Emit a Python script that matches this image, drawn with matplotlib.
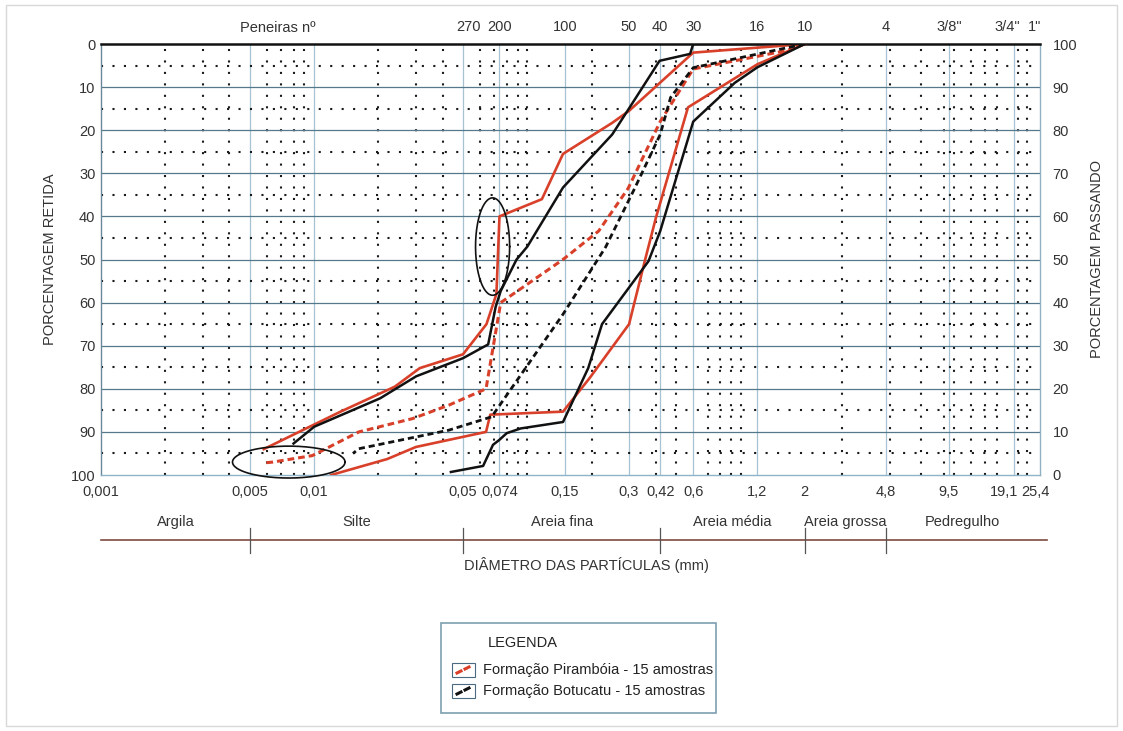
import numpy as np
import matplotlib
matplotlib.use("Agg")
import matplotlib.pyplot as plt
import matplotlib.transforms as mtransforms
from matplotlib.patches import Rectangle
from matplotlib.lines import Line2D
from matplotlib.ticker import NullLocator

plt.rcParams['font.family'] = ['Liberation Sans', 'DejaVu Sans']

# x axis (particle diameter, mm)
diam_ticks = [0.001, 0.005, 0.01, 0.05, 0.074, 0.15, 0.3, 0.42, 0.6, 1.2, 2, 4.8, 9.5, 19.1, 25.4]
diam_labels = ['0,001', '0,005', '0,01', '0,05', '0,074', '0,15', '0,3', '0,42', '0,6',
               '1,2', '2', '4,8', '9,5', '19,1', '25,4']
sieve_diam = [0.053, 0.074, 0.15, 0.3, 0.42, 0.6, 1.2, 2, 4.8, 9.5, 19.1, 25.4]
sieve_labels = ['270', '200', '100', '50', '40', '30', '16', '10', '4', '3/8"', '3/4"', '1"']
solid_vlines = [0.005, 0.01, 0.05, 0.074, 0.15, 0.3, 0.42, 0.6, 1.2, 4.8, 9.5, 19.1]
dotted_vlines = [0.002, 0.003, 0.004, 0.006, 0.007, 0.008, 0.009,
                 0.02, 0.03, 0.04, 0.06, 0.07, 0.08, 0.09, 0.1,
                 0.2, 0.4, 0.5, 0.7, 0.8, 0.9, 1.0,
                 3, 5, 7, 9, 10, 12, 14, 16, 20, 22]

# classification zones
zone_bounds = [0.001, 0.005, 0.05, 0.42, 2.0, 4.8, 25.4]
zone_names = ['Argila', 'Silte', 'Areia fina', 'Areia média', 'Areia grossa', 'Pedregulho']

# curves: diameter (mm) vs percent retained
red_fine_d = [2.0, 0.6, 0.3, 0.25, 0.147, 0.117, 0.074, 0.0716, 0.0643, 0.0499, 0.0313, 0.0239, 0.0133, 0.0058]
red_fine_r = [0, 2.0, 15.5, 18.3, 25.5, 36, 40, 58, 65, 72, 75.2, 79.5, 85.3, 94]

red_coarse_d = [2.0, 1.2, 0.567, 0.401, 0.357, 0.3, 0.196, 0.147, 0.067, 0.064, 0.03, 0.022, 0.012]
red_coarse_r = [0, 4.7, 14.7, 40.3, 50, 65, 77.5, 85.3, 86, 90, 93.5, 96.3, 100]

red_mean_d = [2.0, 1.65, 0.6, 0.42, 0.297, 0.216, 0.147, 0.075, 0.064, 0.0428, 0.029, 0.0162, 0.0098, 0.0064, 0.0058]
red_mean_r = [0, 1.5, 5.8, 18, 33.5, 43.4, 50, 60, 80, 83.8, 86.9, 90, 95.5, 97, 97.2]

black_fine_d = [2.0, 0.6, 0.58, 0.417, 0.295, 0.25, 0.147, 0.1, 0.089, 0.075, 0.071, 0.0655, 0.0499,
                0.0301, 0.0204, 0.01, 0.008]
black_fine_r = [0, 0, 2.3, 3.9, 15.5, 21, 33.3, 47, 50, 57.3, 61, 69.7, 72.9, 77.1, 82.2, 88.8, 92.7]

black_coarse_d = [2.0, 1.2, 0.94, 0.6, 0.42, 0.37, 0.3, 0.224, 0.193, 0.147, 0.093, 0.08, 0.0737,
                  0.069, 0.062, 0.0438]
black_coarse_r = [0, 5.4, 9, 18, 43.4, 50.4, 56.5, 65, 75.2, 87.7, 89.2, 90.3, 91.9, 93, 97.9, 99.3]

black_mean_d = [2.0, 0.6, 0.47, 0.42, 0.318, 0.233, 0.147, 0.068, 0.0428, 0.0162, 0.0152]
black_mean_r = [0, 5.5, 12.4, 21, 33.6, 47.1, 62.7, 86.5, 89.6, 93.9, 95.0]

# highlighted areas (center mm, center %, half width in decades, half height in %)
ell_cx = [0.0687, 0.0076]
ell_cy = [47, 97]
ell_w = [0.08, 0.264]
ell_h = [11.3, 3.7]

RED = '#d8402a'
BLACK = '#111111'
W, H = 1123, 731


def px(x, y):
    return x / W, 1 - y / H


def nudge(label, dx):
    label.set_transform(label.get_transform() +
                        mtransforms.ScaledTranslation(dx / 100, 0, fig.dpi_scale_trans))


fig = plt.figure(figsize=(W / 100, H / 100), dpi=100)
fig.patch.set_facecolor('white')
ax = fig.add_axes([101 / W, 1 - 475 / H, 939 / W, 431 / H])
ax.set_xscale('log')
ax.set_xlim(0.001, 25.4)
ax.set_ylim(100, 0)
ax.xaxis.set_minor_locator(NullLocator())

# grid
for v in solid_vlines:
    ax.axvline(v, color='#a8c2d2', lw=0.9, zorder=1)
for v in dotted_vlines:
    ax.axvline(v, color='#1a1a1a', lw=1.5, ls=(0, (1, 4.5)), zorder=1)
for h in range(10, 100, 10):
    ax.axhline(h, color='#55788a', lw=0.9, zorder=1)
for h in range(5, 100, 10):
    ax.axhline(h, color='#1a1a1a', lw=1.5, ls=(0, (1, 4.5)), zorder=1)

# curves
ax.plot(red_fine_d, red_fine_r, color=RED, lw=1.9, zorder=4)
ax.plot(red_coarse_d, red_coarse_r, color=RED, lw=1.9, zorder=4)
ax.plot(black_fine_d, black_fine_r, color=BLACK, lw=1.8, zorder=5)
ax.plot(black_coarse_d, black_coarse_r, color=BLACK, lw=1.8, zorder=5)
ax.plot(red_mean_d, red_mean_r, color=RED, lw=2.2, ls=(0, (2.2, 1.3)), zorder=4)
ax.plot(black_mean_d, black_mean_r, color=BLACK, lw=2.0, ls=(0, (2.2, 1.4)), zorder=5)

t = np.linspace(0, 2 * np.pi, 200)
for cx, cy, w, h in zip(ell_cx, ell_cy, ell_w, ell_h):
    ax.plot(10 ** (np.log10(cx) + w * np.cos(t)), cy + h * np.sin(t),
            color=BLACK, lw=1.2, zorder=6, clip_on=False)

# spines
ax.spines['top'].set_color('#111111')
ax.spines['top'].set_linewidth(1.8)
ax.spines['left'].set_color('#6a8898')
ax.spines['bottom'].set_color('#8fb4c8')
ax.spines['right'].set_color('#8fb0c0')
for s in ['left', 'bottom', 'right']:
    ax.spines[s].set_linewidth(1.0)

ax.set_xticks(diam_ticks, labels=diam_labels)
ax.set_yticks(range(0, 101, 10))
ax.tick_params(axis='x', length=0, pad=7, labelsize=10.5, labelcolor='#333333')
ax.tick_params(axis='y', length=0, pad=4, labelsize=10.5, labelcolor='#333333')
ax.set_ylabel('PORCENTAGEM RETIDA', fontsize=10.5, color='#333333')
ax.yaxis.set_label_coords((57 - 101) / 939, 0.5)
xlabels = ax.get_xticklabels()
nudge(xlabels[-2], -10)
nudge(xlabels[-1], -5)

ax2 = ax.twinx()
ax2.set_ylim(0, 100)
ax2.set_yticks(range(0, 101, 10))
ax2.tick_params(axis='y', length=0, pad=9, labelsize=10.5, labelcolor='#333333')
for s in ax2.spines.values():
    s.set_visible(False)
ax2.set_ylabel('PORCENTAGEM PASSANDO', fontsize=10.5, color='#333333', rotation=90)
ax2.yaxis.set_label_coords((1090 - 101) / 939, 0.5)

sec = ax.secondary_xaxis('top')
sec.xaxis.set_minor_locator(NullLocator())
sec.set_xticks(sieve_diam, labels=sieve_labels)
sec.tick_params(length=0, pad=7, labelsize=10.5, labelcolor='#333333')
sec.spines['top'].set_visible(False)
slabels = sec.xaxis.get_ticklabels()
nudge(slabels[-2], -6)
nudge(slabels[-1], -5)
ax.text((278 - 101) / 939, 1 + 16 / 431, 'Peneiras nº', transform=ax.transAxes,
        ha='center', va='center', fontsize=10.5, color='#333333')

# zone band below the axis
blend = mtransforms.blended_transform_factory(ax.transData, fig.transFigure)
y_line = 1 - 540 / H
ax.plot([0.001, 27.5], [y_line, y_line], transform=blend, color='#7d4a40', lw=1.2, clip_on=False)
for b in zone_bounds[1:-1]:
    ax.plot([b, b], [1 - 528 / H, 1 - 553 / H], transform=blend, color='#555555', lw=0.9, clip_on=False)
for i, name in enumerate(zone_names):
    xc = np.sqrt(zone_bounds[i] * zone_bounds[i + 1])
    ax.text(xc, 1 - 522 / H, name, transform=blend, ha='center', va='center',
            fontsize=10.5, color='#333333')
fig.text(*px(586, 565), 'DIÂMETRO DAS PARTÍCULAS (mm)', ha='center', va='center',
         fontsize=10.5, color='#333333')

# legend box
x0, y0 = px(441, 713)
x1, y1 = px(716, 623)
fig.add_artist(Rectangle((x0, y0), x1 - x0, y1 - y0, transform=fig.transFigure,
                         fill=False, edgecolor='#7d9fb0', lw=1.2))
fig.text(*px(488, 643), 'LEGENDA', ha='left', va='center', fontsize=10.5, color='#222222')
entries = [('Formação Pirambóia - 15 amostras', RED, 670),
           ('Formação Botucatu - 15 amostras', BLACK, 691)]
for label, col, yy in entries:
    bx0, by0 = px(452, yy + 7)
    bx1, by1 = px(475, yy - 7)
    fig.add_artist(Rectangle((bx0, by0), bx1 - bx0, by1 - by0, transform=fig.transFigure,
                             fill=False, edgecolor='#4a6a80', lw=0.8))
    for xa, ya, xb, yb in [(457, yy + 3, 461, yy + 1), (465, yy - 1, 469, yy - 3)]:
        p0 = px(xa, ya)
        p1 = px(xb, yb)
        fig.add_artist(Line2D([p0[0], p1[0]], [p0[1], p1[1]], transform=fig.transFigure,
                              color=col, lw=2.2))
    fig.text(*px(483, yy), label, ha='left', va='center', fontsize=10.5, color='#222222')

# outer frame
fx0, fy0 = px(6, 726)
fx1, fy1 = px(1117, 5)
fig.add_artist(Rectangle((fx0, fy0), fx1 - fx0, fy1 - fy0, transform=fig.transFigure,
                         fill=False, edgecolor='#d8d8d8', lw=1.0))

fig.savefig('out.png', dpi=100)
